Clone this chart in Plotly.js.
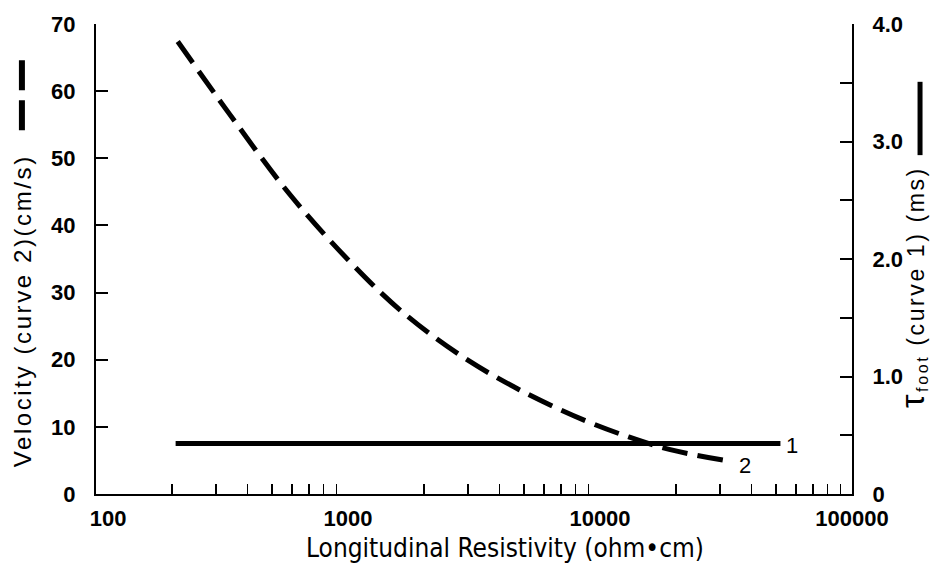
<!DOCTYPE html>
<html><head><meta charset="utf-8">
<script src="https://cdn.plot.ly/plotly-3.0.1.min.js"></script>
<style>html,body{margin:0;padding:0;background:#fff}#chart{width:935px;height:572px}
.spaced{letter-spacing:2.6px}</style>
</head><body><div id="chart"></div>
<script>
// Curve 2: velocity (cm/s) vs longitudinal resistivity (ohm·cm)
const velResistivity = [211, 340, 588, 1000, 1610, 2780, 4800, 8640, 13000, 19000, 33600];
const velocity       = [67.4, 56.5, 44.6, 34.9, 27.4, 20.7, 15.5, 11.0, 8.5, 6.6, 4.8];
// Curve 1: tau_foot (ms) vs longitudinal resistivity
const tauResistivity = [207, 52000];
const tauFoot        = [0.43, 0.43];
// Tick labels
const xMajorVals = [100, 1000, 10000, 100000];
const xMajorText = ['\u00a0\u00a0\u00a0\u00a0100', '1000', '10000', '100000'];
const xMinorVals = [200,300,400,500,600,700,800,900,2000,3000,4000,5000,6000,7000,8000,9000,20000,30000,40000,50000,60000,70000,80000,90000];
const yLeftVals = [0,10,20,30,40,50,60,70];
const yLeftText = ['0','10','20','30','40','50','60','70'];
const yRightVals = [0,0.5,1,1.5,2,2.5,3,3.5,4];
const yRightText = ['0','','1.0','','2.0','','3.0','','4.0'];

const FONT = '"Liberation Sans", Arial, Helvetica, sans-serif';
const TICKFONT = {size: 22, family: FONT, weight: 'bold'};

const traces = [
  {x: velResistivity, y: velocity, mode: 'lines', xaxis: 'x', yaxis: 'y',
   line: {color: '#000', width: 5, dash: '26px,10px', shape: 'spline'}, hoverinfo: 'skip'},
  {x: tauResistivity, y: tauFoot, mode: 'lines', xaxis: 'x', yaxis: 'y2',
   line: {color: '#000', width: 5}, hoverinfo: 'skip'}
];

const layout = {
  width: 935, height: 572,
  margin: {l: 96, r: 83, t: 24, b: 78},
  paper_bgcolor: '#fff', plot_bgcolor: '#fff',
  showlegend: false,
  font: {family: FONT, color: '#000', size: 22},
  xaxis: {
    type: 'log', range: [2, 5],
    showline: true, linecolor: '#000', linewidth: 2,
    showgrid: false, zeroline: false,
    tickmode: 'array', tickvals: xMajorVals, ticktext: xMajorText,
    ticks: 'inside', ticklen: 0, tickcolor: '#000',
    minor: {tickmode: 'array', tickvals: xMinorVals, ticks: 'inside', ticklen: 10, tickwidth: 1.5, tickcolor: '#000', showgrid: false},
    tickfont: TICKFONT, ticklabelstandoff: 4
  },
  yaxis: {
    range: [0, 70],
    showline: true, linecolor: '#000', linewidth: 2,
    showgrid: false, zeroline: false,
    tickmode: 'array', tickvals: yLeftVals, ticktext: yLeftText,
    ticks: 'inside', ticklen: 12, tickwidth: 2, tickcolor: '#000',
    tickfont: TICKFONT, ticklabelstandoff: 14
  },
  yaxis2: {
    range: [0, 4], overlaying: 'y', side: 'right', anchor: 'x',
    showline: true, linecolor: '#000', linewidth: 2,
    showgrid: false, zeroline: false,
    tickmode: 'array', tickvals: yRightVals, ticktext: yRightText,
    ticks: 'inside', ticklen: 12, tickwidth: 2, tickcolor: '#000',
    tickfont: TICKFONT, ticklabelstandoff: 14
  },
  annotations: [
    {xref: 'paper', yref: 'paper', x: 0.541, y: -0.115, xanchor: 'center', yanchor: 'middle',
     text: 'Longitudinal Resistivity (ohm\u2022cm)',
     showarrow: false, font: {family: '"Liberation Sans Narrow", "DejaVu Sans Condensed", sans-serif', size: 26}},
    {xref: 'paper', yref: 'paper', x: -0.098, y: 0.391, xanchor: 'center', yanchor: 'middle',
     text: 'Velocity (curve 2)(cm/s)', textangle: -90,
     showarrow: false, font: {family: FONT, size: 24}},
    {xref: 'paper', yref: 'paper', x: 1.079, y: 0.44, xanchor: 'center', yanchor: 'middle',
     text: '<span style="font-size:34px">\u03c4</span><sub>foot</sub> (curve 1) (ms)', textangle: -90,
     showarrow: false, font: {family: FONT, size: 23}},
    {xref: 'x', yref: 'y2', x: 4.76, y: 0.41, text: '1', showarrow: false, font: {family: FONT, size: 22}},
    {xref: 'x', yref: 'y', x: 4.575, y: 4.2, text: '2', showarrow: false, font: {family: FONT, size: 22}}
  ],
  shapes: [
    {type: 'line', xref: 'paper', yref: 'paper', x0: -0.098, x1: -0.098, y0: 0.774, y1: 0.923,
     line: {color: '#000', width: 6, dash: '30px,10px'}},
    {type: 'line', xref: 'paper', yref: 'paper', x0: 1.09, x1: 1.09, y0: 0.721, y1: 0.877,
     line: {color: '#000', width: 5}}
  ]
};

Plotly.newPlot('chart', traces, layout, {staticPlot: true, displayModeBar: false}).then(function () {
  const texts = document.querySelectorAll('.annotation-text');
  [1, 2].forEach(function (i) { if (texts[i]) texts[i].classList.add('spaced'); });
});
</script></body></html>
